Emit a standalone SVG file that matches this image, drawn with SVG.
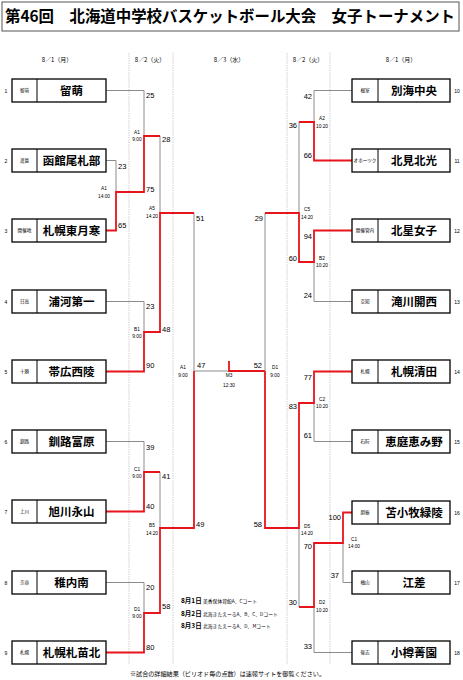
<svg xmlns="http://www.w3.org/2000/svg" width="463" height="680" viewBox="0 0 463 680">
<style>
text{font-family:"Liberation Sans","Noto Sans CJK JP",sans-serif;fill:#000}
.jp{font-family:"Noto Sans CJK JP",sans-serif}
.title{font-family:"Noto Sans CJK JP",sans-serif;font-weight:bold;font-size:15.5px}
.box{fill:#fff;stroke:#000;stroke-width:1.3}
.div{stroke:#000;stroke-width:1}
.name{font-family:"Noto Sans CJK JP",sans-serif;font-weight:bold;font-size:11.5px;text-anchor:middle}
.reg{font-family:"Noto Sans CJK JP",sans-serif;font-size:4.6px;text-anchor:middle}
.num{font-size:5px;text-anchor:middle}
.sc{font-size:7.5px}
.sce{font-size:7.5px;text-anchor:end}
.ml{font-size:4.8px;text-anchor:middle}
.date{font-family:"Noto Sans CJK JP",sans-serif;font-size:6px;text-anchor:middle}
.g{stroke:#8c8c8c;stroke-width:1;fill:none}
.r{stroke:#e8141c;stroke-width:1.8;fill:none}
.dot{stroke:#b8b8b8;stroke-width:0.8;stroke-dasharray:1.2 1.2}
</style>
<g id="title">
<rect x="2" y="2" width="457" height="29" fill="#fff" stroke="#555" stroke-width="1"/>
<text class="title" x="5" y="22" textLength="450" lengthAdjust="spacingAndGlyphs">第46回　北海道中学校バスケットボール大会　女子トーナメント</text>
</g>
<g id="headers">
<text class="date" x="57" y="62">8／1（月）</text>
<text class="date" x="150" y="62">8／2（火）</text>
<text class="date" x="229" y="62">8／3（水）</text>
<text class="date" x="308" y="62">8／2（火）</text>
<text class="date" x="401" y="62">8／1（月）</text>
<line class="dot" x1="129" y1="53" x2="129" y2="664"/>
<line class="dot" x1="173" y1="53" x2="173" y2="664"/>
<line class="dot" x1="287" y1="53" x2="287" y2="664"/>
<line class="dot" x1="330" y1="53" x2="330" y2="664"/>
</g>
<g id="connectors">
<path class="g" d="M106 90.5H144V136"/>
<path class="g" d="M106 160.5H116V192"/>
<path class="g" d="M160 136V213"/>
<path class="g" d="M106 301.5H144V332"/>
<path class="g" d="M194 213V371H229"/>
<path class="g" d="M106 441.5H144V472"/>
<path class="g" d="M160 472V528"/>
<path class="g" d="M106 582.5H144V613"/>
<path class="r" d="M106 230.5H116V192H144V136H160"/>
<path class="r" d="M106 371.5H144V332H160V213H194"/>
<path class="r" d="M106 511.5H144V472H160"/>
<path class="r" d="M106 652.5H144V613H160V528H194V371"/>
<path class="r" d="M229 361V371H265"/>
<path class="g" d="M352 90.5H314V122"/>
<path class="g" d="M299 122V213"/>
<path class="g" d="M265 213V371"/>
<path class="g" d="M352 301.5H314V262"/>
<path class="g" d="M352 441.5H314V403"/>
<path class="g" d="M352 582.5H343V543"/>
<path class="g" d="M299 528V607"/>
<path class="g" d="M352 652.5H314V607"/>
<path class="r" d="M352 160.5H314V122H299"/>
<path class="r" d="M352 230.5H314V262H299V213H265"/>
<path class="r" d="M352 371.5H314V403H299V528H265V371"/>
<path class="r" d="M352 512.5H343V543H314V607H299"/>
</g>
<g id="scores">
<text class="sc" x="146" y="98">25</text>
<text class="sc" x="162" y="142">28</text>
<text class="sc" x="118" y="169">23</text>
<text class="sc" x="146" y="192">75</text>
<text class="sc" x="118" y="228">65</text>
<text class="sc" x="196" y="221">51</text>
<text class="sc" x="146" y="309">23</text>
<text class="sc" x="162" y="332">48</text>
<text class="sc" x="146" y="368">90</text>
<text class="sc" x="197" y="368">47</text>
<text class="sc" x="146" y="450">39</text>
<text class="sc" x="162" y="479">41</text>
<text class="sc" x="146" y="509">40</text>
<text class="sc" x="196" y="527">49</text>
<text class="sc" x="146" y="590">20</text>
<text class="sc" x="162" y="609">58</text>
<text class="sc" x="146" y="650">80</text>
<text class="sce" x="312" y="99">42</text>
<text class="sce" x="297" y="128">36</text>
<text class="sce" x="312" y="158">66</text>
<text class="sce" x="263" y="221">29</text>
<text class="sce" x="312" y="239">94</text>
<text class="sce" x="297" y="261">60</text>
<text class="sce" x="312" y="298">24</text>
<text class="sce" x="262" y="368">52</text>
<text class="sce" x="312" y="380">77</text>
<text class="sce" x="297" y="409">83</text>
<text class="sce" x="312" y="438">61</text>
<text class="sce" x="262" y="527">58</text>
<text class="sce" x="341" y="520">100</text>
<text class="sce" x="312" y="549">70</text>
<text class="sce" x="339" y="578">37</text>
<text class="sce" x="297" y="605">30</text>
<text class="sce" x="312" y="649">33</text>
</g>
<g id="match-labels">
<text class="ml" x="137" y="133.5">A1</text><text class="ml" x="137" y="141">9:00</text>
<text class="ml" x="104" y="190">A1</text><text class="ml" x="104" y="198">14:00</text>
<text class="ml" x="152" y="210">A5</text><text class="ml" x="152" y="217.5">14:20</text>
<text class="ml" x="137" y="331">B1</text><text class="ml" x="137" y="338">9:00</text>
<text class="ml" x="183" y="369">A1</text><text class="ml" x="183" y="377">9:00</text>
<text class="ml" x="137" y="471">C1</text><text class="ml" x="137" y="478">9:00</text>
<text class="ml" x="152" y="527">B5</text><text class="ml" x="152" y="535">14:20</text>
<text class="ml" x="137" y="611">D1</text><text class="ml" x="137" y="618">9:00</text>
<text class="ml" x="229" y="377">M3</text><text class="ml" x="229" y="387">12:30</text>
<text class="ml" x="275" y="369">D1</text><text class="ml" x="275" y="377">9:00</text>
<text class="ml" x="322" y="120">A2</text><text class="ml" x="322" y="127.5">10:20</text>
<text class="ml" x="307" y="211">C5</text><text class="ml" x="307" y="218.5">14:20</text>
<text class="ml" x="322" y="260">B2</text><text class="ml" x="322" y="267">10:20</text>
<text class="ml" x="322" y="401">C2</text><text class="ml" x="322" y="408">10:20</text>
<text class="ml" x="307" y="528">D5</text><text class="ml" x="307" y="535">14:20</text>
<text class="ml" x="354" y="541">C1</text><text class="ml" x="354" y="548">14:00</text>
<text class="ml" x="322" y="604">D2</text><text class="ml" x="322" y="612">10:20</text>
</g>
<g id="team1"><rect class="box" x="12" y="79" width="94" height="23"/><line class="div" x1="37" y1="79" x2="37" y2="102"/><text class="num" x="6" y="92.5">1</text><text class="reg" x="24.5" y="92.3">留萌</text><text class="name" x="71.5" y="95">留萌</text></g>
<g id="team2"><rect class="box" x="12" y="149" width="94" height="23"/><line class="div" x1="37" y1="149" x2="37" y2="172"/><text class="num" x="6" y="162.5">2</text><text class="reg" x="24.5" y="162.3">渡島</text><text class="name" x="71.5" y="165">函館尾札部</text></g>
<g id="team3"><rect class="box" x="12" y="219" width="94" height="23"/><line class="div" x1="37" y1="219" x2="37" y2="242"/><text class="num" x="6" y="232.5">3</text><text class="reg" x="24.5" y="232.3">開催地</text><text class="name" x="71.5" y="235">札幌東月寒</text></g>
<g id="team4"><rect class="box" x="12" y="290" width="94" height="23"/><line class="div" x1="37" y1="290" x2="37" y2="313"/><text class="num" x="6" y="303.5">4</text><text class="reg" x="24.5" y="303.3">日高</text><text class="name" x="71.5" y="306">浦河第一</text></g>
<g id="team5"><rect class="box" x="12" y="360" width="94" height="23"/><line class="div" x1="37" y1="360" x2="37" y2="383"/><text class="num" x="6" y="373.5">5</text><text class="reg" x="24.5" y="373.3">十勝</text><text class="name" x="71.5" y="376">帯広西陵</text></g>
<g id="team6"><rect class="box" x="12" y="430" width="94" height="23"/><line class="div" x1="37" y1="430" x2="37" y2="453"/><text class="num" x="6" y="443.5">6</text><text class="reg" x="24.5" y="443.3">釧路</text><text class="name" x="71.5" y="446">釧路富原</text></g>
<g id="team7"><rect class="box" x="12" y="500" width="94" height="23"/><line class="div" x1="37" y1="500" x2="37" y2="523"/><text class="num" x="6" y="513.5">7</text><text class="reg" x="24.5" y="513.3">上川</text><text class="name" x="71.5" y="516">旭川永山</text></g>
<g id="team8"><rect class="box" x="12" y="571" width="94" height="23"/><line class="div" x1="37" y1="571" x2="37" y2="594"/><text class="num" x="6" y="584.5">8</text><text class="reg" x="24.5" y="584.3">宗谷</text><text class="name" x="71.5" y="587">稚内南</text></g>
<g id="team9"><rect class="box" x="12" y="641" width="94" height="23"/><line class="div" x1="37" y1="641" x2="37" y2="664"/><text class="num" x="6" y="654.5">9</text><text class="reg" x="24.5" y="654.3">札幌</text><text class="name" x="71.5" y="657">札幌札苗北</text></g>
<g id="team10"><rect class="box" x="352" y="79" width="98" height="23"/><line class="div" x1="378" y1="79" x2="378" y2="102"/><text class="num" x="457" y="92.5">10</text><text class="reg" x="365" y="92.3">根室</text><text class="name" x="414" y="95">別海中央</text></g>
<g id="team11"><rect class="box" x="352" y="149" width="98" height="23"/><line class="div" x1="378" y1="149" x2="378" y2="172"/><text class="num" x="457" y="162.5">11</text><text class="reg" x="365" y="162.3">オホーツク</text><text class="name" x="414" y="165">北見北光</text></g>
<g id="team12"><rect class="box" x="352" y="219" width="98" height="23"/><line class="div" x1="378" y1="219" x2="378" y2="242"/><text class="num" x="457" y="232.5">12</text><text class="reg" x="365" y="232.3">開催管内</text><text class="name" x="414" y="235">北星女子</text></g>
<g id="team13"><rect class="box" x="352" y="290" width="98" height="23"/><line class="div" x1="378" y1="290" x2="378" y2="313"/><text class="num" x="457" y="303.5">13</text><text class="reg" x="365" y="303.3">空知</text><text class="name" x="414" y="306">滝川開西</text></g>
<g id="team14"><rect class="box" x="352" y="360" width="98" height="23"/><line class="div" x1="378" y1="360" x2="378" y2="383"/><text class="num" x="457" y="373.5">14</text><text class="reg" x="365" y="373.3">札幌</text><text class="name" x="414" y="376">札幌清田</text></g>
<g id="team15"><rect class="box" x="352" y="430" width="98" height="23"/><line class="div" x1="378" y1="430" x2="378" y2="453"/><text class="num" x="457" y="443.5">15</text><text class="reg" x="365" y="443.3">石狩</text><text class="name" x="414" y="446">恵庭恵み野</text></g>
<g id="team16"><rect class="box" x="352" y="501" width="98" height="23"/><line class="div" x1="378" y1="501" x2="378" y2="524"/><text class="num" x="457" y="514.5">16</text><text class="reg" x="365" y="514.3">胆振</text><text class="name" x="414" y="517">苫小牧緑陵</text></g>
<g id="team17"><rect class="box" x="352" y="571" width="98" height="23"/><line class="div" x1="378" y1="571" x2="378" y2="594"/><text class="num" x="457" y="584.5">17</text><text class="reg" x="365" y="584.3">檜山</text><text class="name" x="414" y="587">江差</text></g>
<g id="team18"><rect class="box" x="352" y="641" width="98" height="23"/><line class="div" x1="378" y1="641" x2="378" y2="664"/><text class="num" x="457" y="654.5">18</text><text class="reg" x="365" y="654.3">後志</text><text class="name" x="414" y="657">小樽菁園</text></g>
<g id="notes">
<text class="jp" x="181" y="602.5" font-size="6.5" font-weight="bold">8月1日</text><text class="jp" x="203" y="602.5" font-size="4.8">美香保体育館A、Cコート</text>
<text class="jp" x="181" y="615.5" font-size="6.5" font-weight="bold">8月2日</text><text class="jp" x="203" y="615.5" font-size="4.8">北海きたえーるA、B、C、Dコート</text>
<text class="jp" x="181" y="628" font-size="6.5" font-weight="bold">8月3日</text><text class="jp" x="203" y="628" font-size="4.8">北海きたえーるA、D、Mコート</text>
<text class="jp" x="130" y="675.5" font-size="6" textLength="195" lengthAdjust="spacingAndGlyphs">※試合の詳細結果（ピリオド毎の点数）は速報サイトを御覧ください。</text>
</g>
</svg>
